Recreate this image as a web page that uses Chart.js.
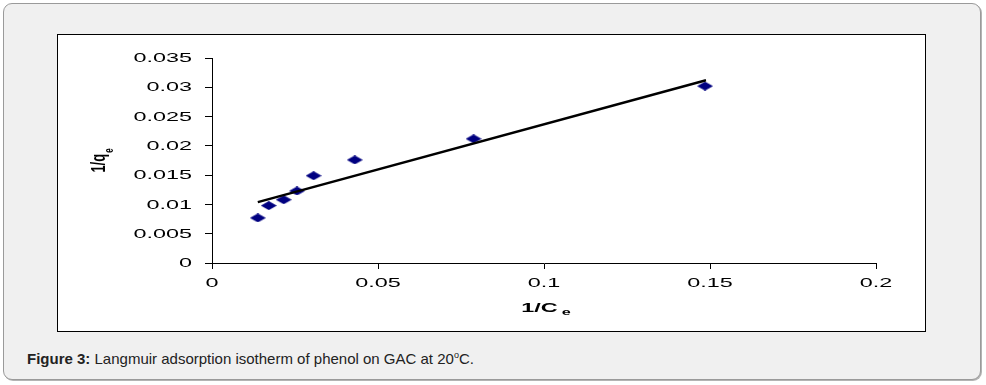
<!DOCTYPE html>
<html>
<head>
<meta charset="utf-8">
<script src="https://cdn.jsdelivr.net/npm/chart.js@4"></script>
<style>
  body { margin: 0; background: #fff; width: 986px; height: 385px; overflow: hidden; position: relative;
         font-family: "Liberation Sans", Arial, sans-serif; }
  #frame { position: absolute; left: 3px; top: 3px; width: 976px; height: 375px; background: #f0f0f0;
           border: 1px solid #9a9a9a; border-radius: 9px; box-shadow: 1px 1px 0 #b4b4b4; }
  #panel { position: absolute; left: 57px; top: 34px; width: 867px; height: 296px; background: #fff; border: 1px solid #000; }
  #caption { position: absolute; left: 27px; top: 347px; font-size: 15px; line-height: 17px; color: #222; }
  #wrap { position: absolute; left: 0; top: 0; width: 986px; height: 385px; }
</style>
</head>
<body>
<div id="frame"></div>
<div id="panel"></div>
<div id="caption"><b>Figure 3:</b> Langmuir adsorption isotherm of phenol on GAC at 20<sup style="font-size:9px">o</sup>C.</div>
<div id="wrap"><canvas id="grafico" width="986" height="385"></canvas></div>

<script>
// dati: 1/Ce e 1/qe
var invCe = [0.0138, 0.0171, 0.0216, 0.0256, 0.0306, 0.0430, 0.0788, 0.1485];
var invQe = [0.0077, 0.0098, 0.0108, 0.0123, 0.0149, 0.0176, 0.0212, 0.0302];

// estremi della retta di tendenza
var trendX = [0.0138, 0.1488];
var trendY = [0.0104, 0.0312];

var xTicks = [0, 0.05, 0.1, 0.15, 0.2];
var yTicks = [0, 0.005, 0.01, 0.015, 0.02, 0.025, 0.03, 0.035];

// il grafico originale e' "stirato" in orizzontale
var stira = 1.8;

function formato(v) { return String(+v.toFixed(3)); }

// rombo schiacciato come marker
function rombo(w, h, colore) {
    var c = document.createElement('canvas');
    c.width = w; c.height = h;
    var g = c.getContext('2d');
    g.fillStyle = colore;
    g.beginPath();
    g.moveTo(w / 2, 0); g.lineTo(w, h / 2); g.lineTo(w / 2, h); g.lineTo(0, h / 2);
    g.closePath();
    g.fill();
    return c;
}

// testo con scala orizzontale
function testo(ctx, s, x, y, align, baseline) {
    ctx.save();
    ctx.translate(x, y);
    ctx.scale(stira, 1);
    ctx.textAlign = align;
    ctx.textBaseline = baseline;
    ctx.fillText(s, 0, 0);
    ctx.restore();
}

var etichette = {
    id: 'etichette',
    afterDraw: function (chart) {
        var ctx = chart.ctx, area = chart.chartArea;
        var sx = chart.scales.x, sy = chart.scales.y;
        ctx.save();
        ctx.fillStyle = '#000';

        // etichette dei tick
        ctx.font = '13px "Liberation Sans"';
        sy.ticks.forEach(function (t) {
            testo(ctx, formato(t.value), area.left - 20, sy.getPixelForValue(t.value) + 0.5, 'right', 'middle');
        });
        sx.ticks.forEach(function (t) {
            testo(ctx, formato(t.value), sx.getPixelForValue(t.value), area.bottom + 24, 'center', 'alphabetic');
        });

        // titolo asse x: 1/C e
        ctx.font = 'bold 13px "Liberation Sans"';
        var wMain = ctx.measureText('1/C').width * stira;
        ctx.font = 'bold 9px "Liberation Sans"';
        var wSub = ctx.measureText('e').width * stira;
        var x0 = (area.left + area.right) / 2 + 2 - (wMain + 4 + wSub) / 2;
        ctx.font = 'bold 13px "Liberation Sans"';
        testo(ctx, '1/C', x0, 311.5, 'left', 'alphabetic');
        ctx.font = 'bold 9px "Liberation Sans"';
        testo(ctx, 'e', x0 + wMain + 4, 315, 'left', 'alphabetic');

        // titolo asse y: 1/q e (ruotato e stirato)
        ctx.translate(area.left - 107, (area.top + area.bottom) / 2);
        ctx.scale(1.6, 1);
        ctx.rotate(-Math.PI / 2);
        ctx.textAlign = 'left';
        ctx.textBaseline = 'alphabetic';
        ctx.font = 'bold 13px "Liberation Sans"';
        var wq = ctx.measureText('1/q').width;
        ctx.font = 'bold 8px "Liberation Sans"';
        var we = ctx.measureText('e').width;
        var y0 = -(wq + 1 + we) / 2;
        ctx.font = 'bold 13px "Liberation Sans"';
        ctx.fillText('1/q', y0, 0);
        ctx.font = 'bold 8px "Liberation Sans"';
        ctx.fillText('e', y0 + wq + 1, 5);
        ctx.restore();
    }
};

var ctx = document.getElementById('grafico').getContext('2d');
var grafico = new Chart(ctx, {
    type: 'scatter',
    data: {
        datasets: [{
            type: 'line',
            label: 'Tendenza',
            data: trendX.map(function (x, i) { return { x: x, y: trendY[i] }; }),
            borderColor: '#000',
            borderWidth: 2.5,
            pointRadius: 0,
            fill: false
        }, {
            label: '1/qe',
            data: invCe.map(function (x, i) { return { x: x, y: invQe[i] }; }),
            pointStyle: rombo(16, 9, '#000080'),
            pointRadius: 8,
            backgroundColor: '#000080'
        }]
    },
    options: {
        responsive: false,
        animation: false,
        layout: { padding: { left: 0, top: 58, right: 110, bottom: 0 } },
        plugins: { legend: { display: false }, tooltip: { enabled: false } },
        scales: {
            x: {
                type: 'linear',
                min: 0, max: 0.2,
                afterBuildTicks: function (s) { s.ticks = xTicks.map(function (v) { return { value: v }; }); },
                afterFit: function (s) { s.height = 122; },
                grid: { drawOnChartArea: false, drawTicks: true, tickLength: 6, tickColor: '#000' },
                border: { color: '#000', width: 1 },
                ticks: { display: false }
            },
            y: {
                type: 'linear',
                min: 0, max: 0.035,
                afterBuildTicks: function (s) { s.ticks = yTicks.map(function (v) { return { value: v }; }); },
                afterFit: function (s) { s.width = 212; },
                grid: { drawOnChartArea: false, drawTicks: true, tickLength: 7, tickColor: '#000' },
                border: { color: '#000', width: 1 },
                ticks: { display: false }
            }
        }
    },
    plugins: [etichette]
});
</script>
</body>
</html>
